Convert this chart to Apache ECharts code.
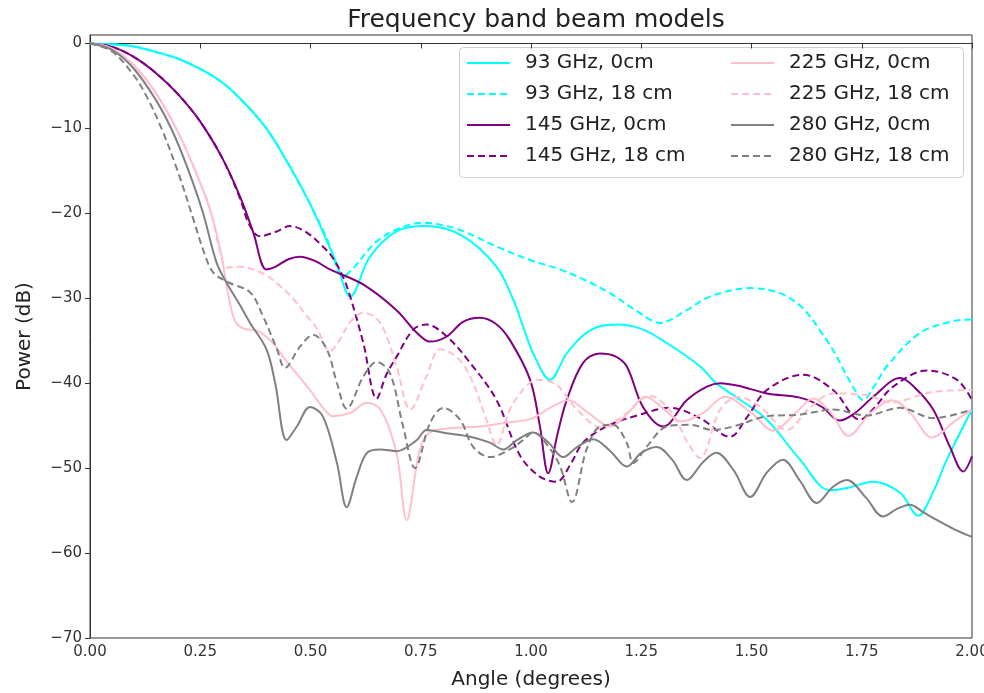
<!DOCTYPE html>
<html>
<head>
<meta charset="utf-8">
<script src="https://cdn.jsdelivr.net/npm/echarts@6/dist/echarts.min.js"></script>
<style>html,body{margin:0;padding:0;background:#fff;overflow:hidden}#c{width:984px;height:693px}</style>
</head>
<body>
<div id="c"></div>
<script>
var xTicks = [0, 0.25, 0.5, 0.75, 1.0, 1.25, 1.5, 1.75, 2.0];
var yTicks = [-70, -60, -50, -40, -30, -20, -10, 0];

var names = ['93 GHz, 0cm', '93 GHz, 18 cm', '145 GHz, 0cm', '145 GHz, 18 cm',
             '225 GHz, 0cm', '225 GHz, 18 cm', '280 GHz, 0cm', '280 GHz, 18 cm'];

var ghz93_0 = [[0,0],[0.05,-0.1],[0.1,-0.35],[0.15,-1],[0.2,-1.8],[0.25,-3.0],[0.3,-4.6],[0.35,-7.0],[0.4,-10.0],[0.45,-14.2],[0.5,-19.0],[0.54,-23.6],[0.56,-26.0],[0.59,-29.8],[0.635,-25.1],[0.696,-22.1],[0.763,-21.5],[0.846,-22.7],[0.922,-26.3],[0.96,-30.2],[0.982,-33.3],[1.005,-36.5],[1.043,-39.6],[1.081,-36.5],[1.12,-34.3],[1.156,-33.3],[1.195,-33.1],[1.25,-33.6],[1.3,-35],[1.383,-38],[1.42,-40],[1.47,-41.8],[1.535,-44.3],[1.61,-49],[1.678,-52.6],[1.72,-52.3],[1.776,-51.6],[1.837,-52.9],[1.878,-55.6],[1.91,-53],[1.943,-49],[2.0,-43.1]];
var ghz93_18 = [[0,0],[0.05,-0.1],[0.1,-0.35],[0.15,-1],[0.2,-1.8],[0.25,-3.0],[0.3,-4.6],[0.35,-7.0],[0.4,-10.0],[0.45,-14.2],[0.5,-19.0],[0.54,-23.3],[0.575,-27.4],[0.6,-26.3],[0.62,-25],[0.65,-23.3],[0.695,-21.9],[0.756,-21.1],[0.8,-21.4],[0.846,-22.1],[0.922,-23.9],[0.998,-25.5],[1.066,-26.6],[1.12,-27.8],[1.179,-29.4],[1.24,-31.5],[1.293,-32.9],[1.35,-31.5],[1.406,-29.8],[1.497,-28.8],[1.594,-30.2],[1.67,-34.9],[1.73,-40.4],[1.753,-42],[1.78,-40.2],[1.807,-38],[1.882,-34.1],[1.957,-32.7],[2.0,-32.5]];
var ghz145_0 = [[0,0],[0.05,-0.4],[0.1,-1.6],[0.15,-3.5],[0.2,-6.0],[0.25,-9.2],[0.3,-13.5],[0.34,-18],[0.37,-22.2],[0.4,-26.6],[0.42,-26.3],[0.45,-25.4],[0.476,-25.1],[0.51,-25.6],[0.544,-26.6],[0.62,-28.4],[0.695,-31.4],[0.74,-34],[0.771,-35.1],[0.809,-34.5],[0.845,-32.8],[0.884,-32.3],[0.92,-33],[0.952,-34.9],[0.998,-39.6],[1.02,-45],[1.039,-50.6],[1.06,-46],[1.081,-42],[1.118,-37.6],[1.156,-36.5],[1.19,-36.8],[1.217,-38],[1.254,-42.8],[1.3,-45.1],[1.353,-42],[1.399,-40.4],[1.429,-40],[1.47,-40.3],[1.535,-41.2],[1.61,-41.7],[1.66,-42.8],[1.7,-44.4],[1.735,-43.5],[1.776,-41.6],[1.837,-39.4],[1.87,-40.5],[1.912,-43.1],[1.95,-47.5],[1.98,-50.4],[2.0,-48.6]];
var ghz145_18 = [[0,0],[0.05,-0.4],[0.1,-1.6],[0.15,-3.5],[0.2,-6.0],[0.25,-9.2],[0.3,-13.5],[0.34,-18.2],[0.36,-21.2],[0.385,-22.7],[0.42,-22.2],[0.454,-21.5],[0.49,-22.2],[0.528,-23.9],[0.55,-25.2],[0.574,-27.5],[0.59,-29.8],[0.62,-35.3],[0.65,-41.8],[0.672,-39],[0.695,-36.9],[0.733,-33.7],[0.763,-33.1],[0.809,-34.5],[0.862,-37.6],[0.922,-42],[0.975,-48.5],[1.02,-51],[1.058,-51.6],[1.09,-49.5],[1.118,-47],[1.171,-45.1],[1.247,-43.7],[1.315,-42.9],[1.383,-44.1],[1.451,-46.3],[1.49,-44],[1.535,-40.8],[1.617,-39],[1.685,-40.8],[1.746,-44.3],[1.78,-42.8],[1.821,-40.4],[1.898,-38.5],[1.966,-39.6],[2.0,-42]];
var ghz225_0 = [[0,0],[0.05,-0.6],[0.1,-2.6],[0.15,-5.9],[0.2,-10.5],[0.25,-16.4],[0.276,-20.2],[0.298,-25],[0.315,-30],[0.33,-32.8],[0.35,-33.6],[0.378,-33.8],[0.41,-35],[0.438,-36.9],[0.47,-39],[0.499,-40.8],[0.53,-43],[0.551,-43.9],[0.59,-43.5],[0.628,-42.3],[0.66,-43.2],[0.695,-48.2],[0.718,-56.1],[0.748,-47.8],[0.771,-45.8],[0.816,-45.3],[0.884,-45.1],[0.937,-44.7],[1.0,-44.2],[1.04,-43],[1.085,-42],[1.13,-43.5],[1.18,-45.1],[1.22,-43.5],[1.26,-41.6],[1.3,-43],[1.34,-44.5],[1.39,-43.5],[1.44,-41.6],[1.5,-43.5],[1.55,-45.6],[1.6,-43.5],[1.64,-41.8],[1.68,-43.5],[1.72,-46.2],[1.77,-43.5],[1.82,-42],[1.86,-43.5],[1.91,-46.4],[1.96,-44.5],[2.0,-43.1]];
var ghz225_18 = [[0,0],[0.05,-0.6],[0.1,-2.6],[0.15,-5.9],[0.2,-10.5],[0.25,-16.4],[0.276,-20.2],[0.295,-24.5],[0.31,-26.4],[0.34,-26.3],[0.37,-26.6],[0.4,-27.3],[0.43,-28.5],[0.46,-30],[0.49,-32],[0.514,-33.5],[0.544,-36.2],[0.565,-35],[0.59,-32.8],[0.62,-31.7],[0.658,-32.9],[0.695,-38],[0.726,-43.1],[0.763,-39.2],[0.794,-36],[0.831,-36.9],[0.862,-39.2],[0.899,-44.3],[0.922,-47.3],[0.952,-43.1],[0.99,-40.3],[1.013,-39.6],[1.058,-40.2],[1.104,-43.1],[1.16,-45.2],[1.21,-43.8],[1.27,-41.5],[1.32,-43.5],[1.355,-47],[1.383,-48.8],[1.429,-43.1],[1.47,-41.6],[1.52,-42.8],[1.58,-45.5],[1.63,-43],[1.685,-41.2],[1.76,-41.4],[1.82,-42.3],[1.87,-41.6],[1.912,-41],[2.0,-40.8]];
var ghz280_0 = [[0,0],[0.05,-0.75],[0.1,-3],[0.15,-6.7],[0.185,-10.1],[0.22,-14.5],[0.256,-19.9],[0.287,-25.8],[0.31,-28.2],[0.34,-30.8],[0.363,-32.9],[0.4,-36],[0.42,-40],[0.446,-46.7],[0.469,-45.1],[0.499,-42.8],[0.528,-43.9],[0.56,-49.4],[0.582,-54.6],[0.605,-51],[0.628,-48.2],[0.658,-47.8],[0.695,-48],[0.741,-46.7],[0.763,-45.5],[0.809,-45.9],[0.862,-46.3],[0.907,-47],[0.937,-47.8],[0.968,-46.7],[1.005,-45.8],[1.04,-47],[1.073,-48.7],[1.105,-47.5],[1.141,-46.6],[1.18,-48],[1.217,-49.8],[1.25,-48.2],[1.285,-47.5],[1.32,-49],[1.353,-51.4],[1.39,-49.3],[1.42,-48.2],[1.46,-50.3],[1.497,-53.4],[1.535,-50.5],[1.571,-49],[1.61,-51.5],[1.648,-54.1],[1.685,-52.2],[1.716,-51.4],[1.76,-53.5],[1.798,-55.7],[1.83,-54.8],[1.859,-54.3],[1.89,-55.2],[1.92,-56.1],[1.96,-57.2],[2.0,-58.1]];
var ghz280_18 = [[0,0],[0.05,-0.95],[0.1,-3.8],[0.13,-6.4],[0.163,-10.1],[0.2,-15.2],[0.235,-20.8],[0.26,-24.8],[0.28,-27],[0.317,-28.2],[0.363,-29.3],[0.393,-32.2],[0.424,-36],[0.442,-38.2],[0.476,-35.7],[0.506,-34.3],[0.537,-36],[0.56,-40],[0.582,-43],[0.62,-39.2],[0.65,-37.5],[0.68,-38.8],[0.71,-45.1],[0.737,-50],[0.771,-44.7],[0.801,-42.9],[0.839,-44.3],[0.869,-47.5],[0.907,-48.7],[0.952,-47.8],[0.982,-46.7],[1.005,-45.8],[1.04,-47.5],[1.066,-49.8],[1.093,-54],[1.126,-47.8],[1.156,-45.1],[1.186,-44.9],[1.217,-47],[1.232,-49.4],[1.262,-47.5],[1.308,-45.1],[1.36,-44.9],[1.413,-45.5],[1.458,-45.1],[1.535,-43.9],[1.61,-43.7],[1.685,-43.1],[1.76,-43.8],[1.837,-42.9],[1.912,-44.1],[2.0,-43.1]];

var seriesData = [ghz93_0, ghz93_18, ghz145_0, ghz145_18, ghz225_0, ghz225_18, ghz280_0, ghz280_18];
var colors = ['#00ffff', '#00ffff', '#800080', '#800080', '#ffc0cb', '#ffc0cb', '#808080', '#808080'];
var dashed = [false, true, false, true, false, true, false, true];

var FONT = 'DejaVu Sans';
function minus(v) { return String(v).replace('-', '\u2212'); }

var chart = echarts.init(document.getElementById('c'), null, {renderer: 'canvas'});
var series = seriesData.map(function (d, i) {
  return {
    name: names[i], type: 'line', data: d, showSymbol: false, symbol: 'none',
    smooth: 0.35, animation: false,
    lineStyle: { color: colors[i], width: 2, type: dashed[i] ? [7, 4] : 'solid' },
    itemStyle: { color: colors[i] }
  };
});

var legendCommon = {
  orient: 'vertical', itemWidth: 43, itemHeight: 14, itemGap: 11, padding: 0,
  itemStyle: { opacity: 0 },
  textStyle: { fontFamily: FONT, fontSize: 20, color: '#222', lineHeight: 20, padding: [0, 0, 0, 10] }
};

chart.setOption({
  backgroundColor: '#fff',
  animation: false,
  title: {
    text: 'Frequency band beam models', left: 531, top: 3, textAlign: 'center',
    textStyle: { fontFamily: FONT, fontSize: 25, fontWeight: 'normal', color: '#222' }
  },
  grid: { left: 90, right: 12, top: 35, bottom: 55, outerBoundsMode: 'none', containLabel: false,
    show: true, borderColor: '#333', borderWidth: 1, backgroundColor: 'transparent' },
  legend: [
    Object.assign({}, legendCommon, { left: 466, top: 53, data: names.slice(0, 4) }),
    Object.assign({}, legendCommon, { left: 730, top: 53, data: names.slice(4, 8) })
  ],
  graphic: [{
    type: 'rect', left: 459, top: 47, z: 0, zlevel: 0,
    shape: { width: 504, height: 130, r: 4 },
    style: { fill: 'rgba(255,255,255,0.8)', stroke: '#d0d0d0', lineWidth: 1 }
  }],
  xAxis: {
    type: 'value', min: 0, max: 2, interval: 0.25,
    name: 'Angle (degrees)', nameLocation: 'middle', nameGap: 32,
    nameTextStyle: { fontFamily: FONT, fontSize: 20, color: '#222' },
    axisLine: { show: true, lineStyle: { color: '#333', width: 1 } },
    axisTick: { show: true, inside: false, length: 5, lineStyle: { color: '#333' } },
    axisLabel: { fontFamily: FONT, fontSize: 15, color: '#333', margin: 7, hideOverlap: false,
      formatter: function (v) { return v.toFixed(2); } },
    splitLine: { show: false }
  },
  yAxis: {
    type: 'value', min: -70, max: 1,
    name: 'Power (dB)', nameLocation: 'middle', nameGap: 55, nameRotate: 90,
    nameTextStyle: { fontFamily: FONT, fontSize: 20, color: '#222' },
    axisLine: { show: true, lineStyle: { color: '#333', width: 1 } },
    axisTick: { show: true, inside: false, length: 5, lineStyle: { color: '#333' }, customValues: yTicks },
    axisLabel: { fontFamily: FONT, fontSize: 15, color: '#333', margin: 8, customValues: yTicks,
      formatter: function (v) { return minus(v); } },
    splitLine: { show: false }
  },
  series: series
});
</script>
</body>
</html>
